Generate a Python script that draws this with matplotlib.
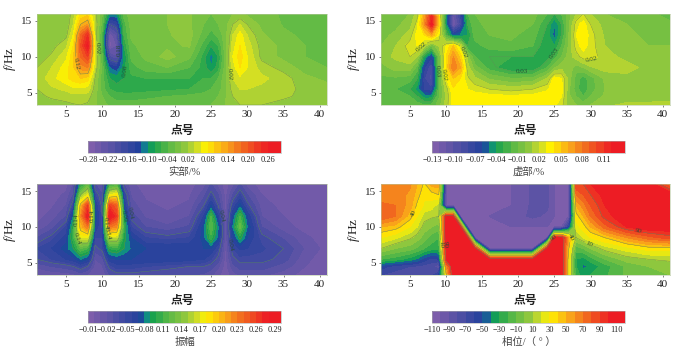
import numpy as np
import matplotlib
matplotlib.use("Agg")
import matplotlib.pyplot as plt
from matplotlib.colors import LinearSegmentedColormap

plt.rcParams['font.family'] = ['Liberation Serif', 'Noto Sans CJK SC', 'DejaVu Sans']
plt.rcParams['mathtext.fontset'] = 'custom'
plt.rcParams['mathtext.rm'] = 'Liberation Serif'
plt.rcParams['mathtext.it'] = 'Liberation Serif:italic'

points = [1, 3, 5, 6, 7, 8, 9, 10, 11, 12, 13, 14, 16, 19, 22, 24, 25, 26, 27, 28, 29, 30, 32, 35, 38, 41]
freqs = [16, 14.5, 13, 11.5, 10, 8.5, 7, 5.5, 4.5, 3.3]

real = [
    [.002, .002, .003, .03, .08, .09, .03, -.02, -.10, -.10, -.03, -.008, -.002, 0, .002, -.015, -.02, -.015, -.012, 0, .002, -.006, -.015, -.022, -.024, -.025],
    [.002, .002, .005, .04, .12, .14, .04, -.03, -.18, -.16, -.05, -.012, -.004, 0, .004, -.02, -.03, -.02, -.008, .02, .04, .02, -.006, -.022, -.024, -.025],
    [.002, .004, .014, .06, .18, .24, .04, -.05, -.26, -.22, -.06, -.016, -.006, -.002, .008, -.03, -.05, -.035, -.008, .04, .07, .04, .003, -.016, -.024, -.025],
    [.004, .012, .035, .08, .20, .27, .05, -.05, -.27, -.24, -.08, -.025, -.01, -.004, .002, -.05, -.08, -.06, -.008, .05, .08, .05, .012, -.006, -.02, -.025],
    [.008, .024, .055, .095, .18, .22, .05, -.04, -.20, -.22, -.10, -.035, -.015, .008, -.015, -.07, -.11, -.08, -.008, .06, .09, .06, .014, -.006, -.02, -.025],
    [.02, .04, .07, .095, .15, .16, .04, -.03, -.12, -.14, -.09, -.05, -.03, -.02, -.04, -.07, -.10, -.07, -.008, .05, .08, .06, .03, .012, -.01, -.02],
    [.025, .052, .075, .09, .10, .09, .02, -.03, -.08, -.09, -.08, -.065, -.06, -.06, -.06, -.06, -.06, -.04, -.004, .04, .055, .055, .045, .03, .005, -.005],
    [.02, .035, .045, .055, .055, .05, .012, -.03, -.06, -.07, -.072, -.072, -.07, -.065, -.06, -.05, -.04, -.03, -.004, .03, .04, .04, .035, .028, .014, .008],
    [.015, .023, .028, .032, .032, .03, .006, -.02, -.04, -.05, -.05, -.05, -.045, -.04, -.035, -.03, -.03, -.02, -.002, .02, .03, .03, .03, .022, .017, .012],
    [.01, .012, .015, .018, .02, .016, .002, -.01, -.025, -.03, -.03, -.03, -.03, -.03, -.03, -.025, -.02, -.015, 0, .012, .02, .02, .02, .016, .014, .012],
]

imag = [
    [-.005, -.005, 0, .015, .06, .11, .04, -.04, -.11, -.08, -.02, -.01, -.005, -.005, -.005, -.02, -.03, -.02, -.005, .01, .02, .01, 0, -.003, -.005, -.02],
    [-.005, -.003, .005, .025, .07, .125, .05, -.045, -.125, -.09, -.03, -.012, -.008, -.006, -.01, -.03, -.05, -.03, -.002, .025, .035, .02, .005, 0, -.003, -.005],
    [-.003, .002, .015, .035, .04, .06, .03, -.02, -.06, -.05, -.04, -.015, -.01, -.008, -.015, -.035, -.055, -.03, 0, .03, .04, .025, .008, .002, -.002, -.003],
    [0, .01, .025, .03, .015, -.01, .01, .03, .05, .02, -.03, -.025, -.015, -.012, -.02, -.04, -.04, -.02, .002, .025, .035, .025, .01, .003, 0, 0],
    [.005, .012, .02, .01, -.04, -.07, -.01, .04, .07, .045, .005, -.02, -.03, -.03, -.03, -.035, -.025, -.01, .005, .015, .025, .025, .015, .006, .002, .001],
    [-.005, .005, .005, -.015, -.07, -.09, -.01, .04, .08, .06, .015, -.005, -.025, -.04, -.04, -.02, -.002, .006, .005, -.005, 0, .008, .015, .015, .006, .003],
    [-.012, -.012, -.015, -.03, -.08, -.095, -.015, .03, .05, .04, .022, .012, -.002, -.01, -.008, .01, .035, .03, .005, -.015, -.025, -.015, .002, .006, .003, .002],
    [-.015, -.02, -.03, -.045, -.075, -.08, -.015, .015, .038, .036, .03, .026, .02, .016, .02, .028, .038, .034, .002, -.015, -.03, -.015, 0, .003, .003, .003],
    [-.015, -.018, -.02, -.03, -.045, -.045, -.012, .012, .036, .036, .036, .036, .034, .032, .034, .036, .036, .03, .002, -.01, -.02, -.01, .002, .005, .006, .007],
    [-.01, -.012, -.012, -.015, -.02, -.018, -.005, .014, .036, .038, .038, .038, .038, .036, .038, .036, .032, .024, .004, 0, -.005, 0, .008, .012, .012, .012],
]

amp = [
    [.003, .003, .005, .02, .09, .12, .03, .025, .10, .11, .03, .012, .005, .004, .005, .015, .03, .015, .005, .015, .03, .015, .005, .003, .003, .003],
    [.003, .005, .012, .03, .14, .17, .05, .03, .17, .18, .055, .018, .008, .006, .008, .025, .045, .03, .005, .03, .05, .03, .01, .004, .003, .003],
    [.004, .008, .02, .05, .20, .26, .07, .035, .26, .24, .07, .025, .012, .008, .012, .04, .07, .04, .006, .05, .075, .045, .015, .006, .004, .003],
    [.006, .014, .03, .08, .22, .28, .08, .04, .29, .26, .09, .035, .018, .012, .02, .06, .11, .06, .008, .07, .11, .07, .02, .01, .005, .004],
    [.012, .025, .05, .10, .20, .23, .07, .045, .23, .22, .105, .05, .03, .022, .032, .075, .12, .08, .008, .08, .125, .08, .03, .014, .006, .004],
    [.03, .045, .065, .105, .17, .17, .05, .05, .16, .16, .095, .07, .05, .045, .05, .075, .105, .075, .01, .065, .095, .07, .045, .028, .012, .005],
    [.05, .06, .075, .09, .12, .11, .035, .045, .10, .105, .09, .078, .07, .07, .07, .07, .07, .05, .008, .05, .062, .06, .052, .04, .018, .006],
    [.04, .05, .06, .065, .08, .07, .02, .025, .065, .07, .07, .07, .07, .068, .065, .06, .05, .035, .005, .035, .045, .045, .045, .035, .012, .005],
    [.022, .03, .035, .04, .05, .04, .015, .018, .045, .055, .055, .055, .05, .045, .04, .04, .035, .022, .004, .025, .035, .035, .035, .025, .01, .005],
    [.012, .012, .014, .016, .022, .018, .01, .012, .028, .035, .035, .035, .033, .03, .03, .028, .022, .012, .004, .014, .022, .022, .022, .014, .006, .004],
]

phase = [
    [65, 65, 62, 50, 38, 55, 55, -100, -100, -100, -100, -100, -100, -100, -88, -88, -100, -100, -100, 90, 90, 100, 110, 110, 110, 70],
    [65, 65, 58, 45, 32, 35, 40, -100, -100, -100, -100, -100, -100, -100, -88, -88, -100, -100, -100, 70, 80, 90, 105, 110, 110, 110],
    [72, 70, 55, 38, 28, 25, 15, -100, -100, -100, -100, -100, -100, -100, -88, -88, -100, -100, -100, 50, 65, 80, 100, 110, 110, 110],
    [80, 70, 45, 30, 15, 12, 10, 105, 105, -100, -100, -100, -100, -95, -88, -92, -100, -100, -100, 35, 50, 70, 95, 110, 110, 110],
    [50, 45, 30, 20, 5, 0, -5, 110, 110, 110, -100, -100, -100, -100, -100, -100, -100, -100, -60, 25, 35, 50, 75, 100, 110, 110],
    [30, 22, 12, 5, -5, -15, -20, 110, 110, 110, 110, -100, -100, -100, -100, -100, 110, 110, 50, 10, 20, 30, 40, 60, 75, 85],
    [10, 0, -5, -12, -20, -25, -25, 100, 110, 110, 110, 110, -100, -100, -100, 110, 110, 110, 40, -15, -10, 0, 15, 25, 35, 35],
    [-20, -25, -35, -42, -55, -65, -60, 100, 110, 110, 110, 110, 110, 110, 110, 110, 110, 110, 30, -30, -35, -25, -10, 5, 10, 12],
    [-55, -65, -70, -72, -75, -75, -90, 60, 110, 110, 110, 110, 110, 110, 110, 110, 110, 110, 30, -30, -42, -38, -25, -8, 0, 5],
    [-70, -75, -78, -78, -78, -75, -60, 35, 110, 110, 110, 110, 110, 110, 110, 110, 110, 110, 30, -25, -35, -30, -22, -8, 0, 0],
]

real_ticks = [-0.28, -0.22, -0.16, -0.10, -0.04, 0.02, 0.08, 0.14, 0.20, 0.26]
imag_ticks = [-0.13, -0.10, -0.07, -0.04, -0.01, 0.02, 0.05, 0.08, 0.11]
amp_ticks = [-0.01, 0.02, 0.05, 0.08, 0.11, 0.14, 0.17, 0.20, 0.23, 0.26, 0.29]
phase_ticks = [-110, -90, -70, -50, -30, -10, 10, 30, 50, 70, 90, 110]

real_labels = ['\u22120.28', '\u22120.22', '\u22120.16', '\u22120.10', '\u22120.04', '0.02', '0.08', '0.14', '0.20', '0.26']
imag_labels = ['\u22120.13', '\u22120.10', '\u22120.07', '\u22120.04', '\u22120.01', '0.02', '0.05', '0.08', '0.11']
amp_labels = ['\u22120.01', '\u22120.02', '\u22120.05', '\u22120.08', '0.11', '0.14', '0.17', '0.20', '0.23', '0.26', '0.29']
phase_labels = ['\u2212110', '\u221290', '\u221270', '\u221250', '\u221230', '\u221210', '10', '30', '50', '70', '90', '110']

cmap = LinearSegmentedColormap.from_list('survey', [
    (0.0, '#8460ac'), (0.27, '#1e3f9b'), (0.30, '#0f8a8f'), (0.33, '#14a04e'),
    (0.42, '#5cb946'), (0.50, '#8cc63f'), (0.56, '#cbdb2a'), (0.61, '#fff200'),
    (0.72, '#f9a11b'), (0.80, '#f1691f'), (0.93, '#ed1c24'), (1.0, '#ed1c24')])

W, H = 675.0, 354.0


def pixel_axes(fig, x0, y0, x1, y1):
    return fig.add_axes([x0 / W, 1 - y1 / H, (x1 - x0) / W, (y1 - y0) / H])


def draw_panel(fig, box, cbox, data, vmin, vmax, step, line_levels, label_pos, fmt, ticks, labels, name):
    ax = pixel_axes(fig, *box)
    levels = np.arange(vmin, vmax + step / 2, step)
    cf = ax.contourf(points, freqs, np.array(data), levels=levels, cmap=cmap)
    cs = ax.contour(points, freqs, np.array(data), levels=line_levels, colors='#5f8a58', linewidths=0.3)
    texts = ax.clabel(cs, fmt=fmt, fontsize=5, manual=label_pos, inline=True, inline_spacing=1)
    for t in texts:
        t.set_color('#264a35')
    ax.set_xlim(1, 41)
    ax.set_ylim(3.3, 16)
    ax.set_xticks([5, 10, 15, 20, 25, 30, 35, 40])
    ax.set_yticks([5, 10, 15])
    ax.tick_params(labelsize=8, length=1.5, width=0.4, pad=2, colors='#222222')
    for s in ax.spines.values():
        s.set_linewidth(0.4)
        s.set_color('#b8c8a0')
    ax.set_xlabel('点号', fontsize=8.5, fontweight='bold', labelpad=4.5, color='#222222')
    ax.set_ylabel('$f$/Hz', fontsize=9.5, labelpad=2, color='#222222')

    cax = pixel_axes(fig, *cbox)
    cb = fig.colorbar(cf, cax=cax, orientation='horizontal')
    cb.set_ticks(ticks)
    cb.set_ticklabels(labels)
    cb.ax.tick_params(labelsize=6, length=0, pad=2.5, colors='#222222')
    cb.outline.set_linewidth(0.4)
    cb.outline.set_edgecolor('#aaaaaa')
    cb.set_label(name, fontsize=7.5, labelpad=1.5, color='#444444')


fig = plt.figure(figsize=(6.75, 3.54), dpi=100)

draw_panel(fig, (37, 13.5, 327, 105), (88, 141, 281, 153), real, -0.28, 0.30, 0.02,
           [-0.18, -0.08, 0.02, 0.12],
           [(6, 9), (9.3, 11.2), (11.9, 11), (13.4, 8), (27.1, 7.6)],
           lambda v: f'{abs(v):.2f}', real_ticks, real_labels, '实部/%')
draw_panel(fig, (381, 13.5, 670, 105), (432, 141, 625, 153), imag, -0.13, 0.14, 0.01,
           [-0.03, 0.02],
           [(6.5, 11.5), (8.8, 8), (10, 7.5), (12.8, 10.8), (20.5, 9), (25, 10.5), (30.2, 9.5)],
           lambda v: f'{abs(v):.2f}', imag_ticks, imag_labels, '虚部/%')
draw_panel(fig, (37, 184, 327, 275), (88, 311, 281, 323), amp, -0.01, 0.30, 0.01,
           [0.04, 0.09, 0.14, 0.19],
           [(6.5, 11), (6.8, 8.5), (8.7, 11.5), (10.4, 10.5), (10.6, 9), (13, 11.5), (14, 12), (26.2, 11.5), (27.5, 7.5)],
           lambda v: f'{abs(v):.2f}', amp_ticks, amp_labels, '振幅')
draw_panel(fig, (381, 184, 670, 275), (432, 311, 625, 323), phase, -110, 120, 10,
           [10, 40, 90],
           [(5.5, 12), (8.9, 7.5), (9.8, 7.5), (25, 8.5), (27.3, 8.5), (30, 8), (36.5, 8.5)],
           lambda v: f'{v:.0f}', phase_ticks, phase_labels, '相位/（ ° ）')

fig.savefig('out.png', dpi=100)
